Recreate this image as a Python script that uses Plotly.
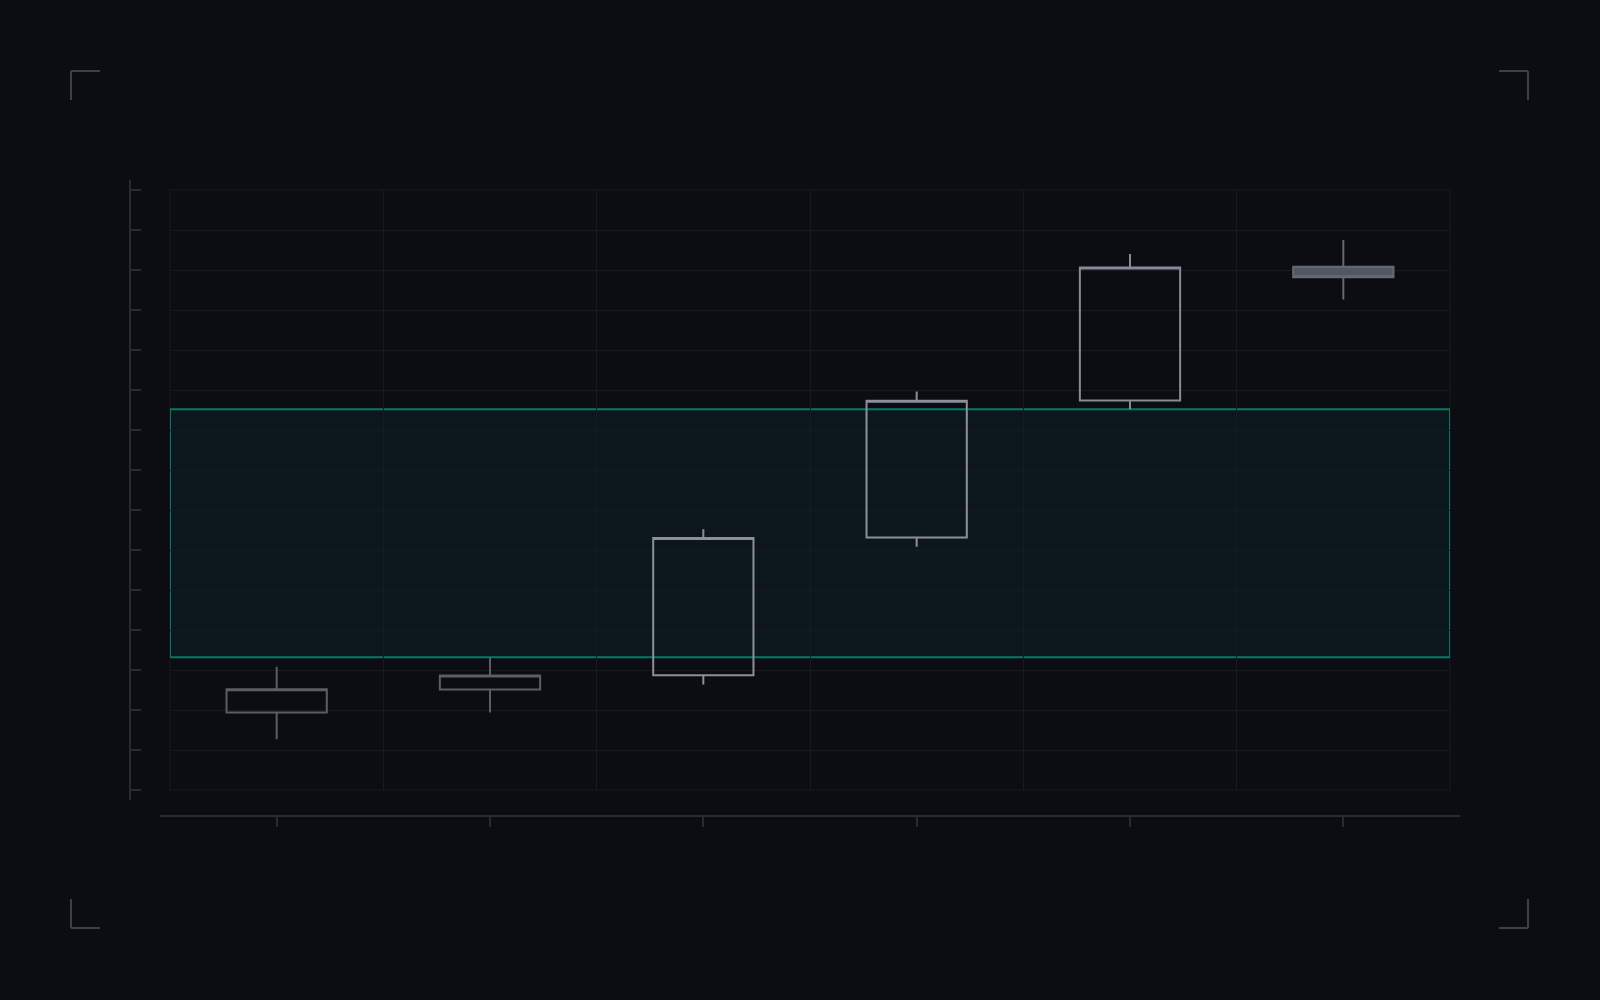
import plotly.graph_objects as go

# ---- data ----
days = [0, 1, 2, 3, 4, 5]
opens = [19.4, 25.1, 28.7, 63.1, 97.4, 130.8]
highs = [30.8, 33.2, 65.2, 99.6, 134.0, 137.5]
lows = [12.7, 19.4, 26.4, 60.8, 95.2, 122.6]
closes = [25.2, 28.6, 63.0, 97.3, 130.6, 128.2]
band_low = 33.2
band_high = 95.2
y_min, y_max, y_step = 0, 150, 10

# ---- styles ----
line_colors = ["#5c5e64", "#5c5e64", "#8b9099", "#8b9099", "#878c94", "#656970"]
fill_colors = ["rgba(0,0,0,0)"] * 5 + ["#53575f"]
BG = "#0b0d12"
GRID = "#171a21"
AXIS = "#272b33"
CORNER = "#3b404a"

W, H = 1600, 1000
L, R, T, B = 130, 140, 180, 184
PW, PH = W - L - R, H - T - B


def px(x):
    return (x - L) / PW


def py(y):
    return (H - B - y) / PH


plot_x0, plot_x1, plot_y0, plot_y1 = 170, 1450, 190, 790
x_lo, x_hi = days[0] - 0.5, days[-1] + 0.5
xs = (plot_x1 - plot_x0) / (x_hi - x_lo)
ys = (plot_y1 - plot_y0) / (y_max - y_min)
off = 10

fig = go.Figure()
for i in range(len(days)):
    style = dict(line=dict(color=line_colors[i], width=2), fillcolor=fill_colors[i])
    fig.add_trace(go.Candlestick(
        x=[days[i]], open=[opens[i]], high=[highs[i]], low=[lows[i]], close=[closes[i]],
        increasing=style, decreasing=style, whiskerwidth=0,
        showlegend=False, hoverinfo="skip",
    ))

# invisible trace to carry the detached frame axes
fig.add_trace(go.Scatter(x=[None], y=[None], xaxis="x2", yaxis="y2",
                         showlegend=False, hoverinfo="skip"))

# faint border of the plotting area (edge grid lines)
fig.add_shape(type="rect", xref="x domain", yref="y domain", x0=0, x1=1, y0=0, y1=1,
              layer="below", line=dict(color=GRID, width=1), fillcolor="rgba(0,0,0,0)")

fig.add_shape(type="rect", xref="x", yref="y", x0=x_lo, x1=x_hi,
              y0=band_low, y1=band_high, layer="below",
              line=dict(color="#127562", width=2),
              fillcolor="rgba(20,160,170,0.07)")

# corner brackets
c0, c1, arm = 71, 1528, 29
cy0, cy1 = 71, 928
corners = [
    (c0, cy0, c0 + arm, cy0), (c0, cy0, c0, cy0 + arm),
    (c1 - arm, cy0, c1, cy0), (c1, cy0, c1, cy0 + arm),
    (c0, cy1, c0 + arm, cy1), (c0, cy1 - arm, c0, cy1),
    (c1 - arm, cy1, c1, cy1), (c1, cy1 - arm, c1, cy1),
]
for (a, b, c, d) in corners:
    fig.add_shape(type="line", xref="paper", yref="paper",
                  x0=px(a), y0=py(b), x1=px(c), y1=py(d),
                  line=dict(color=CORNER, width=2))

fig.update_layout(
    width=W, height=H,
    margin=dict(l=L, r=R, t=T, b=B),
    paper_bgcolor=BG, plot_bgcolor="rgba(0,0,0,0)",
    boxgap=0.53, boxgroupgap=0,
    xaxis=dict(domain=[px(plot_x0), px(plot_x1)], range=[x_lo, x_hi],
               tick0=x_lo, dtick=1, showgrid=True, gridcolor=GRID, gridwidth=1,
               zeroline=False, showticklabels=False, ticks="", showline=False,
               rangeslider=dict(visible=False), fixedrange=True),
    yaxis=dict(domain=[py(plot_y1), py(plot_y0)], range=[y_min, y_max],
               dtick=y_step, showgrid=True, gridcolor=GRID, gridwidth=1,
               zeroline=False, showticklabels=False, ticks="", showline=False,
               fixedrange=True),
    xaxis2=dict(domain=[px(plot_x0 - off), px(plot_x1 + off)],
                range=[x_lo - off / xs, x_hi + off / xs],
                anchor="free", position=0,
                tickmode="array", tickvals=days, ticks="outside", ticklen=10,
                tickwidth=1.5, tickcolor=AXIS, showline=True, linecolor=AXIS,
                linewidth=1.5, showgrid=False, zeroline=False,
                showticklabels=False, fixedrange=True),
    yaxis2=dict(domain=[py(plot_y1 + off), py(plot_y0 - off)],
                range=[y_min - off / ys, y_max + off / ys],
                anchor="free", position=0,
                tick0=y_min, dtick=y_step, ticks="inside", ticklen=10,
                tickwidth=1.5, tickcolor=AXIS, showline=True, linecolor=AXIS,
                linewidth=1.5, showgrid=False, zeroline=False,
                showticklabels=False, fixedrange=True),
)

fig.write_html("out.html", config={"displayModeBar": False},
               post_script="document.body.style.margin='0';document.body.style.background='%s';" % BG)
